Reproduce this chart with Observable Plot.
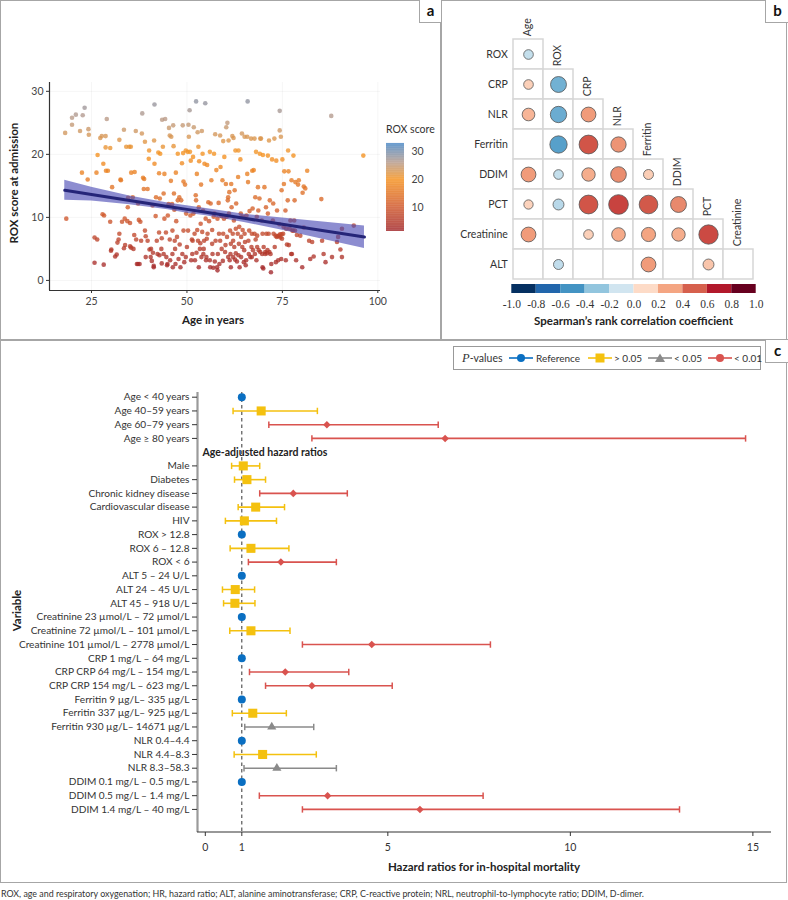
<!DOCTYPE html>
<html><head><meta charset="utf-8">
<script src="https://cdn.jsdelivr.net/npm/d3@7"></script>
<script src="https://cdn.jsdelivr.net/npm/@observablehq/plot@0.6"></script>
<style>
body{margin:0;background:#fff;font-family:Lato,"Open Sans",sans-serif;color:#333}
#fig{position:relative;width:788px;height:900px;overflow:hidden;background:#fff}
.tag{position:absolute;height:22px;border-left:1.5px solid #a6a6a6;border-bottom:1.5px solid #a6a6a6;font-weight:bold;font-size:15px;text-align:center;line-height:21px;background:#fff;color:#111}
.ttl{position:absolute;font-weight:bold;font-size:11.5px;color:#222;white-space:nowrap;text-align:center}
.nw{white-space:nowrap}
</style></head><body><div id="fig"></div>
<script>
// ---------- Panel a data: age vs ROX score ----------
const scatter = [
[18.1,23.4],[19.9,25.8],[19.9,24.7],[20.9,26.3],[22.0,23.7],[22.7,26.2],[23.2,27.4],[24.2,24.0],[24.3,23.1],[22.5,17.1],[24.0,16.0],[18.4,9.8],[25.8,2.8],[25.8,6.8],[26.5,6.5],[26.6,19.9],[26.3,17.1],
[27.3,22.6],[27.7,22.9],[28.7,22.9],[28.7,21.1],[29.0,25.6],[28.1,18.5],[28.8,17.4],[29.3,17.4],[29.9,21.0],[27.9,10.5],[28.3,10.3],[29.9,9.3],[30.4,14.8],[28.2,2.5],[30.2,4.9],[30.1,4.7],[31.2,3.8],[31.6,4.1],[32.1,6.5],[32.3,7.4],[31.8,6.0],[32.3,22.3],[32.6,16.0],[32.7,15.9],[33.0,9.3],[33.5,23.9],[33.7,9.8],[34.1,21.2],[33.8,5.6],[33.5,5.1],
[34.4,9.4],[34.5,11.6],[34.6,13.1],[34.9,21.2],[35.3,21.2],[35.4,17.1],[35.1,9.1],[35.1,5.4],[35.4,5.2],[35.8,13.2],[36.0,5.0],[36.3,17.2],[36.2,7.2],[36.6,23.7],[36.7,6.5],[36.9,2.6],[37.2,2.6],[37.6,2.6],[37.2,12.2],[37.4,9.6],[37.8,9.3],[38.0,6.3],[38.2,23.3],[38.3,26.5],[38.5,16.3],[38.8,16.1],[38.7,14.5],[39.0,22.0],[39.0,7.9],[39.2,3.7],[39.2,7.0],[39.7,14.5],[39.7,6.3],[40.0,19.3],[40.1,20.6],[40.2,4.9],[40.6,5.0],[40.5,3.7],[40.8,3.1],[41.0,11.9],[41.1,4.4],[41.3,2.3],[41.3,2.1],[41.5,27.9],[41.4,22.2],[41.5,18.5],[41.8,10.2],[41.9,13.2],[42.1,6.3],[42.3,4.2],[42.5,20.3],[42.7,17.0],[42.7,7.6],[42.8,4.0],[42.9,13.0],
[43.0,20.1],[43.3,5.0],[43.4,6.7],[43.4,2.7],[43.5,25.5],[43.7,21.2],[43.9,13.8],[43.9,4.2],[44.1,9.8],[44.1,16.9],[44.3,25.6],[44.5,7.6],[44.6,3.7],[44.8,2.4],[44.9,2.6],[45.0,10.3],[45.2,12.1],[45.3,24.2],[45.5,23.0],[45.5,6.5],[45.6,3.2],[45.8,15.8],[45.9,22.8],[46.1,12.1],[46.2,7.9],[46.2,4.2],[46.3,2.1],[46.4,24.6],[46.5,21.3],[46.6,13.8],[46.7,11.2],[46.8,6.3],[46.9,5.0],[47.0,2.6],[47.1,17.1],[47.2,9.4],[47.4,6.9],[47.6,12.7],[47.6,20.1],[47.8,3.4],[48.0,13.2],[48.1,5.7],[48.3,2.1],[48.5,12.7],[48.7,18.6],[48.8,4.2],[48.9,24.6],[49.0,20.2],[49.1,15.7],[49.1,7.9],[49.3,2.9],[49.5,15.2],[49.7,20.6],[49.7,3.7],[49.8,10.6],[50.0,5.3],[50.2,20.4],[50.3,7.9],[50.4,24.7],[50.5,22.8],[50.7,27.0],[50.8,20.4],[50.9,10.3],[51.0,19.0],[51.1,3.2],[51.3,6.5],[51.4,4.2],[51.5,6.3],[51.6,19.6],[51.7,10.6],
[51.8,24.3],[52.0,7.4],[52.1,3.2],[52.3,13.5],[52.4,28.4],[52.4,12.7],[52.5,4.4],[52.6,16.9],[52.7,8.0],[52.8,23.5],[52.9,6.3],[53.0,21.2],[53.1,11.6],[53.1,2.1],[53.2,18.9],[53.4,5.0],[53.5,5.9],[53.6,9.0],[53.7,15.2],[53.8,3.7],[53.9,23.7],[54.0,7.7],[54.1,20.1],[54.2,11.1],[54.3,4.2],[54.4,5.0],[54.5,6.3],[54.6,18.5],[54.8,28.1],[54.9,9.8],[55.0,3.2],[55.1,3.7],[55.2,6.6],[55.3,18.3],[55.4,7.4],[55.6,12.4],[55.8,9.4],[56.0,3.2],[56.0,20.4],[56.1,2.1],[56.2,12.2],[56.4,15.9],[56.6,5.8],[56.6,8.0],[56.7,4.2],[56.9,2.0],[57.0,10.1],[57.1,20.1],[57.2,10.6],[57.3,3.0],[57.4,23.2],[57.5,6.3],[57.7,17.5],[57.9,2.1],[58.0,1.6],[58.0,9.8],[58.1,4.2],[58.3,12.3],[58.4,7.4],[58.5,2.6],[58.7,23.0],[58.7,6.3],[58.8,18.0],[59.0,10.2],[59.1,5.0],[59.3,15.9],[59.4,3.1],[59.5,22.1],[59.5,7.4],[59.7,9.8],[59.8,19.6],[60.0,4.5],[60.1,5.6],[60.2,15.3],[60.3,24.3],[60.4,10.1],[60.5,6.9],
[60.6,25.0],[60.7,12.7],[60.8,3.7],[60.8,13.2],[60.9,22.2],[61.0,10.6],[61.1,14.0],[61.2,3.2],[61.3,7.9],[61.4,4.2],[61.5,5.8],[61.5,2.1],[61.6,15.3],[61.7,11.6],[61.9,22.9],[62.0,7.4],[62.1,3.7],[62.1,6.3],[62.2,22.6],[62.3,9.5],[62.4,5.3],[62.5,14.3],[62.6,3.3],[62.7,20.6],[62.8,8.2],[62.8,4.3],[62.9,12.2],[63.1,3.0],[63.3,7.4],[63.4,16.4],[63.5,4.0],[63.5,20.6],[63.6,5.8],[63.7,8.5],[63.8,2.1],[64.0,19.2],[64.1,10.6],[64.2,3.7],[64.2,6.9],[64.4,23.3],[64.5,5.3],[64.6,8.0],[64.7,10.1],[64.9,2.9],[65.0,4.8],[65.1,22.8],[65.1,7.4],[65.2,6.1],[65.4,2.4],[65.5,3.2],[65.6,10.3],[65.8,16.9],[65.8,22.8],[65.9,28.4],[66.0,15.6],[66.1,6.3],[66.2,4.2],[66.3,7.9],[66.4,11.0],[66.6,3.7],[66.8,22.5],[66.9,5.3],[67.0,7.4],[67.0,3.7],[67.1,17.4],[67.2,11.4],[67.3,4.8],[67.5,17.5],[67.7,7.4],[67.7,22.5],[67.8,4.2],[67.9,13.2],[68.0,6.5],[68.1,20.4],[68.2,3.2],[68.3,10.1],[68.4,5.3],[68.4,7.1],[68.6,14.8],[68.7,11.1],[68.8,4.8],[69.0,13.0],[69.1,20.1],[69.2,22.5],[69.2,4.5],
[69.4,22.5],[69.6,9.5],[69.7,4.2],[69.8,7.4],[69.8,2.1],[69.9,19.9],[70.0,1.9],[70.1,5.3],[70.3,14.8],[70.5,4.5],[70.5,4.2],[70.7,11.6],[70.8,7.4],[71.0,4.3],[71.1,4.8],[71.2,19.8],[71.2,10.6],[71.4,7.4],[71.5,22.2],[71.6,4.5],[71.7,12.7],[71.9,4.2],[72.0,1.3],[72.1,2.6],[72.3,19.2],[72.5,9.5],[72.6,12.2],[72.7,7.4],[72.9,22.5],[73.0,5.3],[73.2,7.1],[73.3,2.9],[73.4,19.0],[73.5,6.9],[73.6,11.1],[73.8,7.0],[73.9,3.2],[74.1,7.1],[74.2,8.9],[74.3,23.8],[74.3,26.9],[74.4,7.3],[74.5,6.8],[74.6,22.8],[74.7,3.4],[74.8,7.3],[74.8,14.3],[74.9,6.6],[75.0,19.2],[75.2,7.4],[75.3,8.5],[75.4,15.3],[75.5,17.3],[75.8,11.1],[75.9,3.2],[76.0,8.2],[76.2,5.7],[76.4,12.7],[76.5,20.6],[76.6,17.3],[76.7,5.6],[76.9,8.2],[77.1,9.5],[77.3,4.2],[77.4,15.9],[77.5,4.2],[77.6,7.9],[77.8,7.9],[77.9,19.8],
[78.1,9.5],[78.2,12.7],[78.3,7.9],[78.4,15.6],[78.6,3.2],[78.8,7.2],[79.1,15.2],[79.3,15.9],[79.7,7.1],[80.2,2.1],[80.3,13.9],[80.6,14.9],[80.6,8.4],[81.0,14.6],[81.5,17.4],[82.0,6.3],[82.3,3.4],[82.8,6.1],[83.2,3.8],[85.2,12.9],[85.4,6.3],[85.8,4.2],[86.3,2.9],[87.8,26.1],[88.0,3.7],[89.3,6.1],[89.6,6.9],[90.2,4.9],[90.6,8.2],[90.6,3.7],[93.7,8.7],[96.2,19.8]
];
const fitAge   = [18, 25, 35, 45, 50, 55, 65, 75, 85, 96.5];
const fitValue = [14.3, 13.64, 12.69, 11.74, 11.27, 10.8, 9.86, 8.91, 7.97, 6.88];
const fitLower = [12.7, 12.6, 12.0, 11.2, 10.65, 10.25, 9.2, 7.95, 6.6, 5.05];
const fitUpper = [15.9, 14.8, 13.4, 12.3, 11.85, 11.4, 10.5, 9.9, 9.3, 8.65];
const ageTicks = [25, 50, 75, 100];
const roxTicks = [0, 10, 20, 30];
const roxLegendTicks = [10, 20, 30];
const roxColorStops = [1.5, 10, 20, 26, 33];
const roxColors = ["#a3282b", "#cf572b", "#f5921f", "#b59a8c", "#4586c6"];

// ---------- Panel b data: Spearman correlations ----------
const corrCols = ["Age","ROX","CRP","NLR","Ferritin","DDIM","PCT","Creatinine"];
const corrRows = ["ROX","CRP","NLR","Ferritin","DDIM","PCT","Creatinine","ALT"];
const corrValues = [
  [-0.14],
  [0.14, -0.38],
  [0.24, -0.40, 0.33],
  [null, -0.45, 0.53, 0.35],
  [0.33, -0.14, 0.27, 0.37, 0.15],
  [0.13, -0.18, 0.53, 0.58, 0.52, 0.38],
  [0.33, null, 0.14, 0.28, 0.30, 0.27, 0.56],
  [null, -0.15, null, null, 0.33, null, 0.18, null]
];
const corrBinEdges = [-1,-0.8,-0.6,-0.4,-0.2,0,0.2,0.4,0.6,0.8,1];
const corrBinCenters = [-0.9,-0.7,-0.5,-0.3,-0.1,0.1,0.3,0.5,0.7,0.9];
const corrBinColors = ["#053061","#2166ac","#4393c3","#92c5de","#d1e5f0","#fddbc7","#f4a582","#d6604d","#b2182b","#67001f"];

// ---------- Panel c data: hazard ratios ----------
const hrHeader = "Age-adjusted hazard ratios";
const hrRows = ["Age < 40 years","Age 40–59 years","Age 60–79 years","Age ≥ 80 years",
  "Male","Diabetes","Chronic kidney disease","Cardiovascular disease","HIV",
  "ROX > 12.8","ROX 6 – 12.8","ROX < 6",
  "ALT 5 – 24 U/L","ALT 24 – 45 U/L","ALT 45 – 918 U/L",
  "Creatinine 23 µmol/L – 72 µmol/L","Creatinine 72 µmol/L – 101 µmol/L","Creatinine 101 µmol/L – 2778 µmol/L",
  "CRP 1 mg/L – 64 mg/L","CRP CRP 64 mg/L – 154 mg/L","CRP CRP 154 mg/L – 623 mg/L",
  "Ferritin 9 µg/L– 335 µg/L","Ferritin 337 µg/L– 925 µg/L","Ferritin 930 µg/L– 14671 µg/L",
  "NLR 0.4–4.4","NLR 4.4–8.3","NLR 8.3–58.3",
  "DDIM 0.1 mg/L – 0.5 mg/L","DDIM 0.5 mg/L – 1.4 mg/L","DDIM 1.4 mg/L – 40 mg/L"];
const hrEstimate = [1,1.53,3.33,6.57, 1.04,1.14,2.41,1.38,1.07, 1,1.25,2.07, 1,0.82,0.81, 1,1.25,4.56, 1,2.19,2.92, 1,1.30,1.82, 1,1.57,1.96, 1,3.35,5.88];
const hrLower    = [null,0.76,1.74,2.92, 0.72,0.80,1.49,0.90,0.55, null,0.68,1.18, null,0.47,0.50, null,0.67,2.66, null,1.21,1.65, null,0.74,1.08, null,0.79,1.06, null,1.48,2.66];
const hrUpper    = [null,3.07,6.38,14.8, 1.49,1.65,3.89,2.17,1.95, null,2.29,3.59, null,1.35,1.36, null,2.32,7.81, null,3.93,5.12, null,2.22,2.97, null,3.04,3.59, null,7.61,12.99];
const hrGroup    = ["ref","ns","p01","p01", "ns","ns","p01","ns","ns", "ref","ns","p01", "ref","ns","ns", "ref","ns","p01", "ref","p01","p01", "ref","ns","p05", "ref","ns","p05", "ref","p01","p01"];
const hrTicks = [0, 1, 5, 10, 15];
const groupColor = {ref: "#0a6fc2", ns: "#f4c10f", p05: "#8a8a8a", p01: "#d9534f"};
const groupSymbol = {ref: "circle", ns: "square", p05: "triangle", p01: "diamond2"};
const groupR = {ref: 4, ns: 5.1, p05: 3.4, p01: 3.4};

// ---------- helpers ----------
const fig = document.getElementById("fig");
function addPlot(svg, left, top) {
  svg.style.position = "absolute"; svg.style.left = left + "px"; svg.style.top = top + "px";
  fig.appendChild(svg); return svg;
}
function addDiv(html, css, cls) {
  const d = document.createElement("div");
  if (cls) d.className = cls;
  d.innerHTML = html;
  Object.assign(d.style, {position: "absolute"}, css);
  fig.appendChild(d); return d;
}
const FONT = "Lato, 'Open Sans', sans-serif";
const baseStyle = {fontFamily: FONT, fontSize: "10px", color: "#333", background: "transparent", overflow: "visible"};

// ---------- frame lines ----------
addDiv("", {left: "0px", top: "0px", width: "785px", height: "881px", border: "1.5px solid #a6a6a6"});
addDiv("", {left: "440px", top: "0px", width: "1.5px", height: "340px", background: "#a6a6a6"});
addDiv("", {left: "0px", top: "339px", width: "788px", height: "1.5px", background: "#a6a6a6"});

// ---------- Panel a ----------
const fitData = fitAge.map((a, i) => ({age: a, fit: fitValue[i], lo: fitLower[i], hi: fitUpper[i]}));
const roxColor = {type: "linear", domain: roxColorStops, range: roxColors};
const plotA = Plot.plot({
  width: 441, height: 335, marginLeft: 49, marginRight: 61, marginTop: 82, marginBottom: 45,
  style: baseStyle,
  x: {domain: [14, 100.7]},
  y: {domain: [-1.6, 31.4]},
  color: roxColor,
  marks: [
    Plot.ruleX(ageTicks, {stroke: "#000", strokeOpacity: 0.04}),
    Plot.ruleY(roxTicks, {stroke: "#000", strokeOpacity: 0.04}),
    Plot.dot(scatter, {x: d => d[0], y: d => d[1], fill: d => d[1], r: 2.3, fillOpacity: 0.78}),
    Plot.areaY(fitData, {x: "age", y1: "lo", y2: "hi", fill: "#4747b3", fillOpacity: 0.62}),
    Plot.line(fitData, {x: "age", y: "fit", stroke: "#252578", strokeWidth: 3}),
    Plot.ruleX([14], {stroke: "#333", strokeWidth: 1.2}),
    Plot.ruleY([-1.6], {stroke: "#333", strokeWidth: 1.2}),
    Plot.axisX(ageTicks, {tickSize: 3, tickPadding: 4, label: null, fontSize: 10.5, fontFamily: FONT, fill: "#444"}),
    Plot.axisY(roxTicks, {tickSize: 3, tickPadding: 3, label: null, fontSize: 10.5, fontFamily: FONT, fill: "#444"})
  ]
});
addPlot(plotA, 0, 0);
addDiv("ROX score at admission", {left: "-47px", top: "177px", width: "120px", transform: "rotate(-90deg)"}, "ttl");
addDiv("Age in years", {left: "163px", top: "313px", width: "100px"}, "ttl");

// colour ramp legend for ROX score
const roxRamp = d3.range(1.5, 33, 0.25);
const legA = Plot.plot({
  width: 50, height: 100, marginLeft: 1, marginRight: 31, marginTop: 3, marginBottom: 9,
  style: baseStyle,
  x: {domain: [0, 1], axis: null},
  y: {domain: [1.5, 33]},
  color: roxColor,
  marks: [
    Plot.rect(roxRamp, {x1: 0, x2: 1, y1: d => d, y2: d => d + 0.27, fill: d => d}),
    Plot.axisY(roxLegendTicks, {anchor: "right", tickSize: 0, tickPadding: 7, label: null, fontSize: 10.5, fontFamily: FONT, fill: "#444"})
  ]
});
addPlot(legA, 385, 140);
addDiv("ROX score", {left: "386px", top: "123px", fontSize: "10.5px", color: "#333"}, "nw");
addDiv("a", {left: "419px", top: "0px", width: "21px"}, "tag");

// ---------- Panel b ----------
const corrCells = [];
corrValues.forEach((row, i) => row.forEach((v, j) => corrCells.push({row: corrRows[i], col: corrCols[j], r: v})));
const bw = 30.5;
const plotB = Plot.plot({
  width: 347, height: 282, marginLeft: 70.3, marginRight: 32.3, marginTop: 36.7, marginBottom: 1.3,
  style: baseStyle,
  x: {type: "band", domain: corrCols, padding: 0, axis: null},
  y: {type: "band", domain: corrRows, padding: 0},
  r: {type: "sqrt", domain: [0, 0.6], range: [0, 10]},
  color: {type: "linear", domain: corrBinCenters, range: corrBinColors, clamp: true},
  marks: [
    Plot.cell(corrCells, {x: "col", y: "row", fill: "white", stroke: "#d6d6d6", strokeWidth: 1.5}),
    Plot.dot(corrCells.filter(d => d.r != null), {x: "col", y: "row", r: d => Math.abs(d.r), fill: "r", stroke: "#555", strokeWidth: 0.8}),
    Plot.text(corrCols, {x: d => d, y: (d, i) => corrRows[i], rotate: -90, textAnchor: "start", lineAnchor: "middle", dy: -(bw / 2 + 3), dx: -1, fontSize: 10.5, fontFamily: FONT, fill: "#333"}),
    Plot.axisY({tickSize: 0, tickPadding: 4, label: null, fontSize: 10.5, fontFamily: FONT, fill: "#333"})
  ]
});
addPlot(plotB, 441, 0);

const legB = Plot.plot({
  width: 347, height: 40, marginLeft: 70.3, marginRight: 32.3, marginTop: 2, marginBottom: 29,
  style: baseStyle,
  x: {domain: [-1, 1]},
  color: {type: "identity"},
  marks: [
    Plot.rect(corrBinColors, {x1: (d, i) => corrBinEdges[i], x2: (d, i) => corrBinEdges[i + 1], fill: d => d}),
    Plot.axisX(corrBinEdges, {tickSize: 0, tickPadding: 6, label: null, tickFormat: d => d.toFixed(1), fontFamily: "'Liberation Serif', serif", fontSize: 11.5, fill: "#333"})
  ]
});
addPlot(legB, 441, 282);
addDiv("Spearman’s rank correlation coefficient", {left: "511px", top: "314px", width: "245px"}, "ttl");
addDiv("b", {left: "765px", top: "0px", width: "23px"}, "tag");

// ---------- Panel c ----------
const yDomainC = [...hrRows.slice(0, 4), hrHeader, ...hrRows.slice(4)];
const rowIndex = label => yDomainC.indexOf(label);
const hrData = hrRows.map((label, i) => ({label, idx: rowIndex(label), est: hrEstimate[i], lo: hrLower[i], hi: hrUpper[i], g: hrGroup[i], color: groupColor[hrGroup[i]]}));
const withCI = hrData.filter(d => d.lo != null);
const capSymbol = {draw(context, size) { context.moveTo(0, -3.2); context.lineTo(0, 3.2); }};
function bottomAxisLine(...args) {
  const dims = args.find(a => a && typeof a === "object" && "marginBottom" in a && "width" in a);
  const l = document.createElementNS("http://www.w3.org/2000/svg", "line");
  const y = dims.height - dims.marginBottom;
  l.setAttribute("x1", dims.marginLeft); l.setAttribute("x2", dims.width - dims.marginRight);
  l.setAttribute("y1", y); l.setAttribute("y2", y);
  l.setAttribute("stroke", "#333"); l.setAttribute("stroke-width", "1.2");
  return l;
}
const plotC = Plot.plot({
  width: 788, height: 543, marginLeft: 197, marginRight: 17, marginTop: 52, marginBottom: 51,
  style: baseStyle,
  x: {domain: [-0.214, 15.51]},
  y: {domain: [-0.342, 31.68], reverse: true},
  color: {type: "identity"},
  marks: [
    Plot.ruleX([1], {stroke: "#333", strokeDasharray: "3.5,3", strokeWidth: 1}),
    Plot.ruleX([-0.214], {stroke: "#9a9a9a", strokeWidth: 2.2}),
    bottomAxisLine,
    Plot.link(withCI, {x1: "lo", x2: "hi", y1: "idx", y2: "idx", stroke: "color", strokeWidth: 1.6}),
    Plot.dot(withCI, {x: "lo", y: "idx", symbol: capSymbol, stroke: "color", fill: "none", strokeWidth: 1.5}),
    Plot.dot(withCI, {x: "hi", y: "idx", symbol: capSymbol, stroke: "color", fill: "none", strokeWidth: 1.5}),
    ...["ref", "ns", "p05", "p01"].map(g => Plot.dot(hrData.filter(d => d.g === g), {x: "est", y: "idx", symbol: groupSymbol[g], r: groupR[g], fill: groupColor[g], stroke: "none"})),
    Plot.text([hrHeader], {y: d => rowIndex(d), frameAnchor: "left", textAnchor: "start", dx: 5, fontWeight: "bold", fontSize: 10.5, fontFamily: FONT, fill: "#222"}),
    Plot.axisY(hrRows.map(rowIndex), {tickSize: 5, tickPadding: 3, label: null, tickFormat: i => yDomainC[i], fontSize: 10.1, fontFamily: FONT, fill: "#333"}),
    Plot.axisX(hrTicks, {tickSize: 4, tickPadding: 7, label: null, fontSize: 10.5, fontFamily: FONT, fill: "#333"})
  ]
});
addPlot(plotC, 0, 340);
addDiv("Variable", {left: "-24px", top: "604px", width: "80px", transform: "rotate(-90deg)"}, "ttl");
addDiv("Hazard ratios for in-hospital mortality", {left: "334px", top: "860px", width: "300px"}, "ttl");
addDiv("c", {left: "765px", top: "340px", width: "23px"}, "tag");

// legend for panel c
function legendIcon(g) {
  const c = groupColor[g];
  const sym = {
    ref: `<circle cx="12" cy="6" r="4" fill="${c}"/>`,
    ns: `<rect x="7.5" y="1.5" width="9" height="9" fill="${c}"/>`,
    p05: `<path d="M12 1.5 L17 10 L7 10 Z" fill="${c}"/>`,
    p01: `<circle cx="12" cy="6" r="4" fill="${c}"/>`
  }[g];
  return `<svg width="24" height="12" style="position:absolute;top:5px"><line x1="0" x2="24" y1="6" y2="6" stroke="${c}" stroke-width="1.6"/>${sym}</svg>`;
}
const legC = addDiv("", {left: "453px", top: "346px", width: "306px", height: "22px", border: "1px solid #999", fontSize: "10px", color: "#333", background: "#fff", whiteSpace: "nowrap"});
legC.innerHTML =
  `<span class="nw" style="position:absolute;left:8px;top:4px;font-size:10.5px"><i style="font-family:'Liberation Serif',serif;font-size:12.5px">P</i>-values</span>` +
  `<span style="position:absolute;left:55px;top:0">${legendIcon("ref")}</span><span class="nw" style="position:absolute;left:82px;top:5px">Reference</span>` +
  `<span style="position:absolute;left:134px;top:0">${legendIcon("ns")}</span><span class="nw" style="position:absolute;left:160px;top:5px">&gt; 0.05</span>` +
  `<span style="position:absolute;left:194px;top:0">${legendIcon("p05")}</span><span class="nw" style="position:absolute;left:220px;top:5px">&lt; 0.05</span>` +
  `<span style="position:absolute;left:254px;top:0">${legendIcon("p01")}</span><span class="nw" style="position:absolute;left:280px;top:5px">&lt; 0.01</span>`;

// footnote
addDiv("ROX, age and respiratory oxygenation; HR, hazard ratio; ALT, alanine aminotransferase; CRP, C-reactive protein; NRL, neutrophil-to-lymphocyte ratio; DDIM, D-dimer.",
  {left: "1px", top: "888px", fontSize: "8.9px", color: "#333"}, "nw");
</script></body></html>
